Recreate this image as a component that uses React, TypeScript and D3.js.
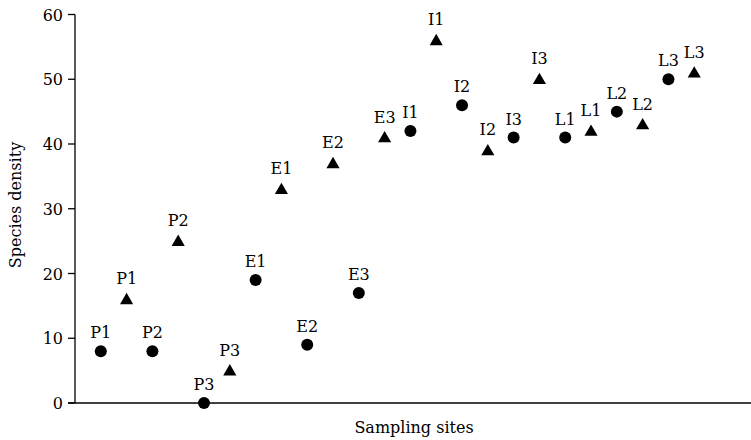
import React from 'react';
import * as d3 from 'd3';

// sampling sites, in plotting order (circle then triangle for each site)
const sites = ['P1', 'P2', 'P3', 'E1', 'E2', 'E3', 'I1', 'I2', 'I3', 'L1', 'L2', 'L3'];
const circleValues = [8, 8, 0, 19, 9, 17, 42, 46, 41, 41, 45, 50];
const triangleValues = [16, 25, 5, 33, 37, 41, 56, 39, 50, 42, 43, 51];
const yTicks = [0, 10, 20, 30, 40, 50, 60];

const W = 751, H = 440;
const FONT = '"DejaVu Serif", serif';

export default function App() {
  const x = d3.scaleLinear().domain([0, 26.2]).range([75, 751]);
  const y = d3.scaleLinear().domain([0, 60]).range([403, 14.5]);

  const tri = d3.symbol().type(d3.symbolTriangle).size(75)();

  const points = sites.flatMap((s, i) => [
    { label: s, kind: 'circle', pos: i * 2 + 1, value: circleValues[i] },
    { label: s, kind: 'triangle', pos: i * 2 + 2, value: triangleValues[i] },
  ]);

  return (
    <svg width={W} height={H} style={{ position: 'absolute', left: 0, top: 0 }}
      fontFamily={FONT}>
      <rect width={W} height={H} fill="#fff" />
      {/* axes */}
      <line x1={x(0)} x2={x(0)} y1={y(0)} y2={y(60)} stroke="#000" strokeWidth={1.3} />
      <line x1={68} x2={W} y1={y(0)} y2={y(0)} stroke="#000" strokeWidth={1.3} />
      {yTicks.map(t => (
        <g key={t}>
          <line x1={68} x2={x(0)} y1={y(t)} y2={y(t)} stroke="#000" strokeWidth={1.3} />
          <text x={63} y={y(t)} dy="0.38em" textAnchor="end" fontSize={16}>{t}</text>
        </g>
      ))}
      <text transform="translate(21,205) rotate(-90)" textAnchor="middle"
        fontSize={16}>Species density</text>
      <text x={414} y={433} textAnchor="middle" fontSize={16}>Sampling sites</text>

      {points.map((p, i) => (
        <g key={i} transform={`translate(${x(p.pos)},${y(p.value)})`}>
          {p.kind === 'circle'
            ? <circle r={6} fill="#000" />
            : <path d={tri} fill="#000" transform="translate(0,1)" />}
          <text y={p.kind === 'circle' ? -13 : -15} textAnchor="middle" fontSize={16}>{p.label}</text>
        </g>
      ))}
    </svg>
  );
}
